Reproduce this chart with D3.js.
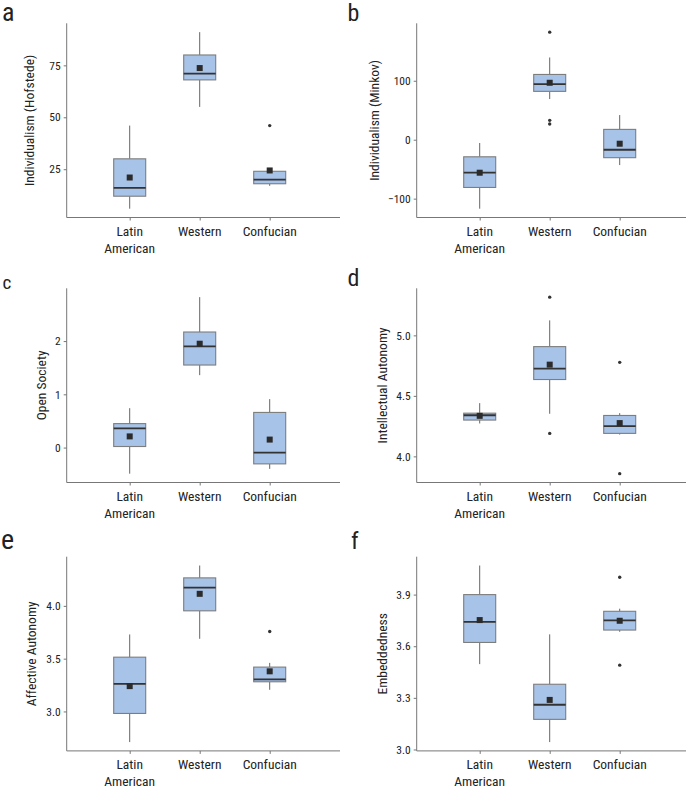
<!DOCTYPE html>
<html>
<head>
<meta charset="utf-8">
<script src="https://cdn.jsdelivr.net/npm/d3@7"></script>
<style>
body { margin: 0; background: #fff; }
svg text { font-family: "Roboto Condensed", "Roboto", sans-serif; fill: #222; }
</style>
</head>
<body>
<div id="chart"></div>
<script>
// groups on the x axis
var categories = ["Latin American", "Western", "Confucian"];

// box stats per group: [whisker low, q1, median, q3, whisker high, mean]
var hofstedeBox = [[6, 12, 16, 30, 46, 21], [55, 68, 71, 80, 91, 73.7], [17, 18, 20, 24, 24, 24.4]];
var hofstedeOut = [[], [], [46]];
var hofstedeTicks = [25, 50, 75];

var minkovBox = [[-117, -81, -56, -29, -5.6, -56], [69, 82, 94.4, 110.7, 139.5, 96.6], [-43, -30.5, -17, 17.5, 41.8, -6.8]];
var minkovOut = [[], [182.5, 32.8, 26.6], []];
var minkovTicks = [-100, 0, 100];

var openBox = [[-0.49, 0.02, 0.36, 0.45, 0.74, 0.21], [1.36, 1.55, 1.9, 2.17, 2.825, 1.95], [-0.4, -0.306, -0.094, 0.66, 0.91, 0.15]];
var openOut = [[], [], []];
var openTicks = [0, 1, 2];

var intellBox = [[4.272, 4.30, 4.34, 4.357, 4.44, 4.335], [4.352, 4.635, 4.725, 4.907, 5.124, 4.758], [4.18, 4.19, 4.25, 4.338, 4.357, 4.275]];
var intellOut = [[], [5.316, 4.19], [4.777, 3.857]];
var intellTicks = [4.0, 4.5, 5.0];

var affectBox = [[2.71, 2.981, 3.262, 3.514, 3.729, 3.24], [3.688, 3.953, 4.173, 4.265, 4.382, 4.114], [3.205, 3.281, 3.303, 3.42, 3.46, 3.38]];
var affectOut = [[], [], [3.757]];
var affectTicks = [3.0, 3.5, 4.0];

var embedBox = [[3.496, 3.622, 3.741, 3.9, 4.069, 3.752], [3.043, 3.175, 3.26, 3.379, 3.669, 3.288], [3.684, 3.694, 3.75, 3.803, 3.818, 3.748]];
var embedOut = [[], [], [4.001, 3.49]];
var embedTicks = [3.0, 3.3, 3.6, 3.9];

var w = 691;
var h = 788;

var svg = d3.select("#chart")
.append("svg")
.attr("width", w)
.attr("height", h);

var colLeft = [66.7, 416.7];
var colRight = [340, 686];
var rowTop = [23.3, 288.3, 556.7];
var plotH = 194.2;

// ls = letter size, lx/ly = letter position
var panels = [
    {letter: "a", title: "Individualism (Hofstede)", box: hofstedeBox, out: hofstedeOut, ticks: hofstedeTicks, fmt: d3.format("d"), col: 0, row: 0, ls: 26, lx: 2, ly: 20.5, gap: 15},
    {letter: "b", title: "Individualism (Minkov)", box: minkovBox, out: minkovOut, ticks: minkovTicks, fmt: d3.format("d"), col: 1, row: 0, ls: 24, lx: 347.5, ly: 20.5, gap: 9},
    {letter: "c", title: "Open Society", box: openBox, out: openOut, ticks: openTicks, fmt: d3.format("d"), col: 0, row: 1, ls: 19, lx: 2.5, ly: 288.5, gap: 9},
    {letter: "d", title: "Intellectual Autonomy", box: intellBox, out: intellOut, ticks: intellTicks, fmt: d3.format(".1f"), col: 1, row: 1, ls: 24, lx: 347.5, ly: 285.5, gap: 9},
    {letter: "e", title: "Affective Autonomy", box: affectBox, out: affectOut, ticks: affectTicks, fmt: d3.format(".1f"), col: 0, row: 2, ls: 28, lx: 1, ly: 548.5, gap: 10},
    {letter: "f", title: "Embeddedness", box: embedBox, out: embedOut, ticks: embedTicks, fmt: d3.format(".1f"), col: 1, row: 2, ls: 24, lx: 351, ly: 548.5, gap: 9}
];

panels.forEach(function(p){
    var left = colLeft[p.col];
    var right = colRight[p.col];
    var top = rowTop[p.row];
    var bottom = top + plotH;

    // y domain: data range + 5% each side (like ggplot)
    var all = [];
    p.box.forEach(function(b){ all.push(b[0], b[4], b[5]); });
    p.out.forEach(function(o){ all = all.concat(o); });
    var ext = d3.extent(all);
    var pad = (ext[1] - ext[0]) * 0.05;

    var y = d3.scaleLinear()
    .domain([ext[0] - pad, ext[1] + pad])
    .range([bottom, top]);

    var x = d3.scalePoint()
    .domain(categories)
    .range([left + 63, left + 203]);

    var bw = 32;
    var g = svg.append("g");

    // axes
    var yAxis = g.append("g")
    .attr("transform", "translate(" + left + ",0)")
    .call(d3.axisLeft(y).tickValues(p.ticks).tickFormat(p.fmt).tickSize(3).tickPadding(3));
    yAxis.select(".domain").remove();
    yAxis.selectAll("line").attr("stroke", "#777");
    yAxis.selectAll("text").style("font-size", "11.5px").attr("fill", "#333")
        .style("font-family", '"Roboto Condensed", "Roboto", sans-serif');

    var xAxis = g.append("g")
    .attr("transform", "translate(0," + bottom + ")")
    .call(d3.axisBottom(x).tickSize(3).tickFormat(""));
    xAxis.select(".domain").remove();
    xAxis.selectAll("line").attr("stroke", "#777");

    g.append("line")
    .attr("x1", left).attr("x2", left)
    .attr("y1", top).attr("y2", bottom)
    .attr("stroke", "#777").attr("stroke-width", 1);
    g.append("line")
    .attr("x1", left).attr("x2", right)
    .attr("y1", bottom).attr("y2", bottom)
    .attr("stroke", "#777").attr("stroke-width", 1);

    // category labels
    categories.forEach(function(c){
        var t = g.append("text")
        .attr("x", x(c))
        .attr("y", bottom + 18.3)
        .attr("text-anchor", "middle")
        .style("font-size", "13.5px");
        c.split(" ").forEach(function(word, i){
            t.append("tspan").attr("x", x(c)).attr("dy", i == 0 ? 0 : 16.8).text(word);
        });
    });

    // y title, placed left of the tick labels
    var labW = 0;
    yAxis.selectAll("text").each(function(){ labW = Math.max(labW, this.getBBox().width); });
    var tx = left - 6 - labW - p.gap;
    g.append("text")
    .attr("transform", "translate(" + tx + "," + ((top + bottom) / 2) + ") rotate(-90)")
    .attr("text-anchor", "middle")
    .style("font-size", "13.5px")
    .text(p.title);

    // panel letter
    svg.append("text")
    .attr("x", p.lx)
    .attr("y", p.ly)
    .style("font-size", p.ls + "px")
    .attr("fill", "#111")
    .text(p.letter);

    // boxes
    categories.forEach(function(c, i){
        var b = p.box[i];
        var cx = x(c);
        g.append("line")
        .attr("x1", cx).attr("x2", cx)
        .attr("y1", y(b[4])).attr("y2", y(b[3]))
        .attr("stroke", "#555").attr("stroke-width", 0.9);
        g.append("line")
        .attr("x1", cx).attr("x2", cx)
        .attr("y1", y(b[1])).attr("y2", y(b[0]))
        .attr("stroke", "#555").attr("stroke-width", 0.9);
        g.append("rect")
        .attr("x", cx - bw / 2)
        .attr("y", y(b[3]))
        .attr("width", bw)
        .attr("height", y(b[1]) - y(b[3]))
        .attr("fill", "#a8c3e8")
        .attr("stroke", "#7d7d7d")
        .attr("stroke-width", 1.1);
        g.append("line")
        .attr("x1", cx - bw / 2).attr("x2", cx + bw / 2)
        .attr("y1", y(b[2])).attr("y2", y(b[2]))
        .attr("stroke", "#333").attr("stroke-width", 1.8);
        g.append("rect")
        .attr("x", cx - 3).attr("y", y(b[5]) - 3)
        .attr("width", 6).attr("height", 6)
        .attr("fill", "#2b2b2b");

        g.selectAll(null)
        .data(p.out[i])
        .enter()
        .append("circle")
        .attr("cx", cx)
        .attr("cy", function(d){ return y(d); })
        .attr("r", 1.7)
        .attr("fill", "#333");
    });
});
</script>
</body>
</html>
